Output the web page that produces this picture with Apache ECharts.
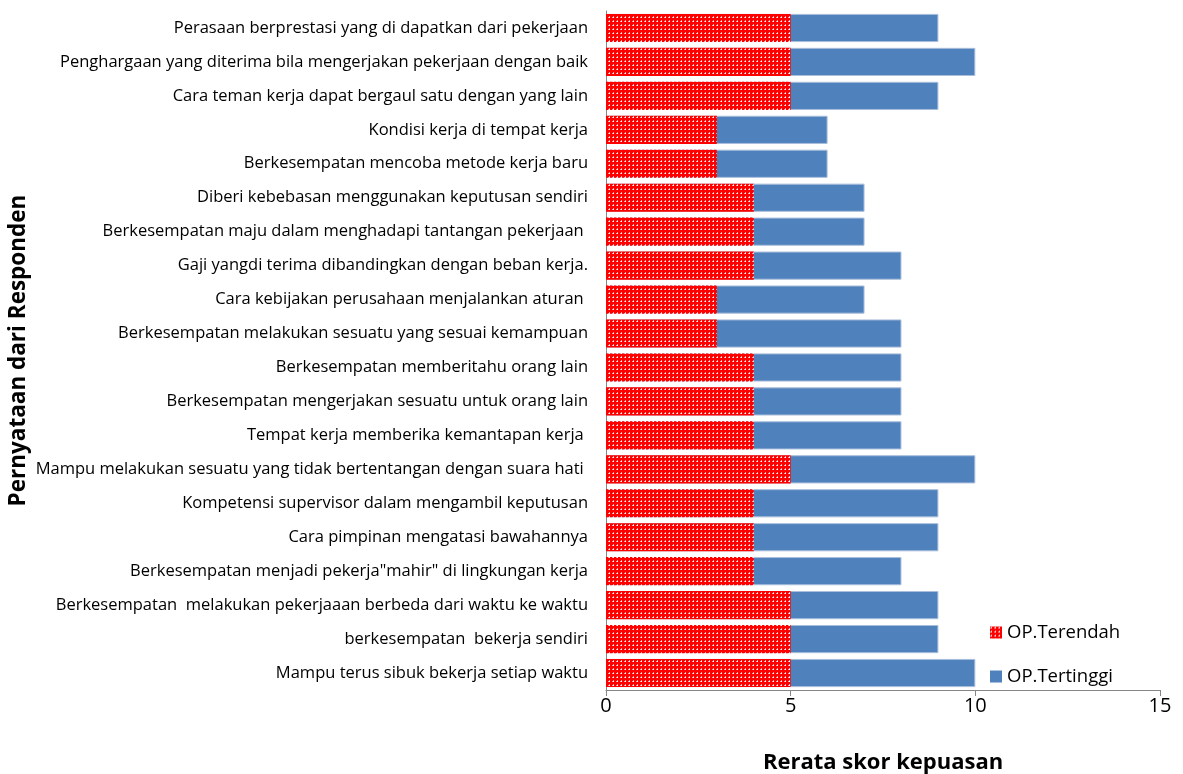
<!DOCTYPE html>
<html>
<head>
<meta charset="utf-8">
<script src="https://cdn.jsdelivr.net/npm/echarts@6/dist/echarts.min.js"></script>
<style>
  html, body { margin: 0; padding: 0; background: #fff; }
  #chart { width: 1183px; height: 774px; }
</style>
</head>
<body>
<div id="chart"></div>
<script>
  // pernyataan, urut dari atas ke bawah
  var categories = [
    'Perasaan berprestasi yang di dapatkan dari pekerjaan',
    'Penghargaan yang diterima bila mengerjakan pekerjaan dengan baik',
    'Cara teman kerja dapat bergaul satu dengan yang lain',
    'Kondisi kerja di tempat kerja',
    'Berkesempatan mencoba metode kerja baru',
    'Diberi kebebasan menggunakan keputusan sendiri',
    'Berkesempatan maju dalam menghadapi tantangan pekerjaan ',
    'Gaji yangdi terima dibandingkan dengan beban kerja.',
    'Cara kebijakan perusahaan menjalankan aturan ',
    'Berkesempatan melakukan sesuatu yang sesuai kemampuan',
    'Berkesempatan memberitahu orang lain',
    'Berkesempatan mengerjakan sesuatu untuk orang lain',
    'Tempat kerja memberika kemantapan kerja ',
    'Mampu melakukan sesuatu yang tidak bertentangan dengan suara hati ',
    'Kompetensi supervisor dalam mengambil keputusan',
    'Cara pimpinan mengatasi bawahannya',
    'Berkesempatan menjadi pekerja"mahir" di lingkungan kerja',
    'Berkesempatan  melakukan pekerjaaan berbeda dari waktu ke waktu',
    'berkesempatan  bekerja sendiri',
    'Mampu terus sibuk bekerja setiap waktu'
  ];
  var terendah = [5, 5, 5, 3, 3, 4, 4, 4, 3, 3, 4, 4, 4, 5, 4, 4, 4, 5, 5, 5];
  var tertinggi = [9, 10, 9, 6, 6, 7, 7, 8, 7, 8, 8, 8, 8, 10, 9, 9, 8, 9, 9, 10];
  var xTicks = [0, 5, 10, 15];

  // pola titik putih di atas merah
  var tile = document.createElement('canvas');
  tile.width = 4; tile.height = 4;
  var ctx = tile.getContext('2d');
  ctx.fillStyle = '#ff0000';
  ctx.fillRect(0, 0, 4, 4);
  ctx.fillStyle = '#ffffff';
  ctx.fillRect(1, 1, 1, 1);
  ctx.fillStyle = '#ff9a9a';
  ctx.fillRect(0, 1, 1, 1);
  ctx.fillRect(1, 0, 1, 1);

  var myChart = echarts.init(document.getElementById('chart'));
  var font = '"Open Sans", sans-serif';

  var option = {
    animation: false,
    textStyle: { fontFamily: font },
    legend: {
      data: ['OP.Terendah', 'OP.Tertinggi'],
      orient: 'vertical',
      left: 985,
      top: 618,
      itemWidth: 12,
      itemHeight: 12,
      itemGap: 25,
      icon: 'rect',
      itemStyle: { borderWidth: 0 },
      textStyle: { fontSize: 18.5, color: '#000', fontFamily: font }
    },
    grid: {
      left: 606,
      right: 23,
      top: 11,
      bottom: 84,
      containLabel: false,
      outerBoundsMode: 'none'
    },
    xAxis: {
      type: 'value',
      min: xTicks[0],
      max: xTicks[xTicks.length - 1],
      interval: 5,
      name: 'Rerata skor kepuasan',
      nameLocation: 'middle',
      nameGap: 62,
      nameTextStyle: { fontSize: 22, fontWeight: 'bold', color: '#000', fontFamily: font },
      axisLine: { show: true, lineStyle: { color: '#868686' } },
      axisTick: { show: true, length: 6, lineStyle: { color: '#868686' } },
      axisLabel: { fontSize: 20, color: '#000', margin: 6, fontFamily: font },
      splitLine: { show: false }
    },
    yAxis: {
      type: 'category',
      inverse: true,
      data: categories,
      name: 'Pernyataan dari Responden',
      nameLocation: 'middle',
      nameRotate: 90,
      nameGap: 576,
      nameTextStyle: { fontSize: 22.5, fontWeight: 'bold', color: '#000', fontFamily: font },
      axisLine: { show: true, lineStyle: { color: '#868686' } },
      axisTick: { show: false },
      axisLabel: { fontSize: 16.5, color: '#000', margin: 18, fontFamily: font }
    },
    series: [
      {
        name: 'OP.Tertinggi',
        type: 'bar',
        data: tertinggi,
        barWidth: '83%',
        barGap: '-100%',
        itemStyle: { color: '#4f81bd', borderColor: '#a9bedb', borderWidth: 1 },
        z: 2
      },
      {
        name: 'OP.Terendah',
        type: 'bar',
        data: terendah,
        barWidth: '83%',
        barGap: '-100%',
        itemStyle: { color: { image: tile, repeat: 'repeat' } },
        z: 3
      }
    ]
  };

  myChart.setOption(option);
</script>
</body>
</html>
